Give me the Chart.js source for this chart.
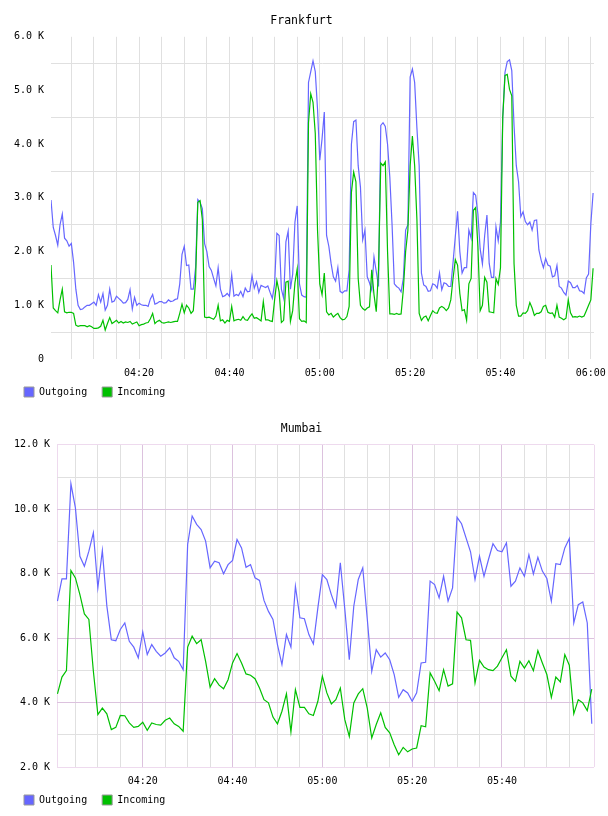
<!DOCTYPE html>
<html>
<head>
<meta charset="utf-8">
<title>Frankfurt / Mumbai traffic</title>
<script src="https://cdn.jsdelivr.net/npm/chart.js@4/dist/chart.umd.min.js"></script>
<style>
  html, body { margin: 0; padding: 0; background: #fff; }
  .box { position: relative; width: 608px; height: 408px; }
</style>
</head>
<body>
<div class="box"><canvas id="frankfurt"></canvas></div>
<div class="box"><canvas id="mumbai"></canvas></div>
<script>
// values are in K, times in minutes after midnight
const frankfurtStart = 240.5;   // 04:00:30, one sample every 30 s
const frankfurtStep = 0.5;
const frankfurtOut = [
  2.96, 2.45, 2.30, 2.12, 2.5, 2.7, 2.25, 2.2, 2.1, 2.15,
  1.8, 1.3, 1.0, 0.92, 0.93, 0.97, 1.0, 1.0, 1.03, 1.06,
  1.0, 1.2, 1.06, 1.22, 0.91, 1.0, 1.3, 1.06, 1.08, 1.17,
  1.13, 1.09, 1.04, 1.05, 1.11, 1.29, 0.93, 1.15, 1.0, 1.04,
  1.01, 1.0, 1.0, 0.98, 1.12, 1.2, 1.02, 1.04, 1.07, 1.07,
  1.04, 1.05, 1.10, 1.07, 1.08, 1.11, 1.12, 1.4, 1.95, 2.1,
  1.74, 1.75, 1.3, 1.3, 1.7, 2.97, 2.92, 2.8, 2.15, 2.0,
  1.72, 1.65, 1.5, 1.36, 1.7, 1.3, 1.16, 1.18, 1.22, 1.17,
  1.57, 1.17, 1.2, 1.18, 1.26, 1.16, 1.32, 1.25, 1.26, 1.55,
  1.32, 1.44, 1.24, 1.37, 1.35, 1.33, 1.36, 1.24, 1.13, 1.4,
  2.34, 2.3, 1.3, 1.13, 2.18, 2.38, 1.3, 1.58, 2.55, 2.85,
  1.4, 1.19, 1.16, 1.15, 5.15, 5.35, 5.55, 5.35, 4.65, 3.7,
  4.1, 4.6, 2.3, 2.1, 1.78, 1.53, 1.45, 1.7, 1.26, 1.23,
  1.27, 1.27, 1.66, 4.0, 4.42, 4.45, 3.6, 3.2, 2.22, 2.4,
  1.53, 1.42, 1.28, 1.9, 1.63, 1.35, 4.35, 4.4, 4.33, 4.0,
  3.39, 2.5, 1.4, 1.35, 1.32, 1.25, 1.5, 2.4, 2.5, 5.25,
  5.4, 5.15, 4.3, 3.6, 1.6, 1.38, 1.35, 1.26, 1.27, 1.4,
  1.38, 1.32, 1.6, 1.29, 1.42, 1.4, 1.35, 1.35, 1.8, 2.28,
  2.75, 2.0, 1.6, 1.7, 1.7, 2.4, 2.25, 3.1, 3.05, 2.7,
  2.05, 1.77, 2.3, 2.68, 1.78, 1.52, 1.52, 2.46, 2.2, 2.55,
  4.5, 5.34, 5.54, 5.57, 5.37, 4.35, 3.6, 3.3, 2.65, 2.74,
  2.56, 2.5, 2.55, 2.4, 2.58, 2.59, 2.03, 1.84, 1.7, 1.87,
  1.75, 1.73, 1.53, 1.55, 1.74, 1.35, 1.32, 1.24, 1.19, 1.45,
  1.42, 1.33, 1.33, 1.37, 1.27, 1.26, 1.22, 1.51, 1.58, 2.52,
  3.09
];
const frankfurtIn = [
  1.75, 0.95, 0.9, 0.86, 1.1, 1.3, 0.88, 0.86, 0.87, 0.87,
  0.85, 0.63, 0.61, 0.62, 0.62, 0.62, 0.60, 0.62, 0.6, 0.57,
  0.57, 0.58, 0.61, 0.72, 0.54, 0.66, 0.77, 0.66, 0.69, 0.72,
  0.67, 0.70, 0.67, 0.69, 0.68, 0.70, 0.65, 0.67, 0.69, 0.62,
  0.64, 0.65, 0.67, 0.68, 0.75, 0.85, 0.66, 0.70, 0.72, 0.68,
  0.67, 0.68, 0.69, 0.68, 0.69, 0.70, 0.70, 0.85, 1.02, 0.86,
  1.0, 0.95, 0.85, 0.9, 1.45, 2.92, 2.95, 2.6, 0.78, 0.77,
  0.78, 0.76, 0.74, 0.8, 1.0, 0.71, 0.73, 0.67, 0.72, 0.7,
  0.98, 0.71, 0.73, 0.74, 0.72, 0.79, 0.73, 0.72, 0.79, 0.84,
  0.76, 0.77, 0.74, 0.71, 1.07, 0.73, 0.73, 0.71, 0.70, 1.1,
  1.46, 1.25, 0.68, 0.72, 1.43, 1.45, 0.7, 0.9, 1.42, 1.68,
  0.75, 0.7, 0.71, 0.68, 4.4, 4.94, 4.78, 4.2, 2.4, 1.4,
  1.2, 1.6, 0.88, 0.82, 0.85, 0.78, 0.82, 0.85, 0.77, 0.73,
  0.74, 0.79, 0.98, 3.1, 3.48, 3.3, 1.5, 1.0, 0.94, 0.91,
  0.95, 0.97, 1.66, 1.2, 0.88, 1.66, 3.65, 3.6, 3.67, 2.0,
  0.84, 0.84, 0.83, 0.85, 0.83, 0.84, 1.3, 2.0, 2.4, 3.6,
  4.15, 3.6, 2.6, 0.85, 0.72, 0.78, 0.8, 0.71, 0.81, 0.9,
  0.86, 0.85, 0.95, 0.98, 0.95, 0.9, 0.95, 1.1, 1.5, 1.85,
  1.75, 1.22, 0.9, 0.92, 0.72, 1.4, 1.5, 2.77, 2.82, 2.1,
  0.9, 1.0, 1.52, 1.43, 0.88, 0.87, 0.86, 1.5, 1.39, 1.7,
  4.5, 5.28, 5.3, 5.02, 4.9, 1.78, 1.0, 0.8, 0.8, 0.86,
  0.85, 0.9, 1.05, 0.95, 0.81, 0.85, 0.85, 0.88, 0.98, 1.0,
  0.87, 0.85, 0.86, 0.78, 1.0, 0.78, 0.76, 0.73, 0.76, 1.1,
  0.86, 0.78, 0.79, 0.78, 0.8, 0.78, 0.8, 0.9, 1.0, 1.1,
  1.69
];

const mumbaiStart = 241;   // 04:01, one sample a minute
const mumbaiStep = 1;
const mumbaiOut = [
  7.15, 7.84, 7.84, 10.79, 10.04, 8.54, 8.23, 8.70, 9.27, 7.56,
  8.72, 7.0, 5.95, 5.92, 6.27, 6.47, 5.90, 5.72, 5.39, 6.19,
  5.49, 5.80, 5.59, 5.44, 5.54, 5.70, 5.39, 5.28, 5.02, 8.91,
  9.79, 9.53, 9.37, 9.01, 8.18, 8.39, 8.34, 8.00, 8.28, 8.41,
  9.06, 8.80, 8.20, 8.28, 7.87, 7.79, 7.17, 6.83, 6.58, 5.80,
  5.18, 6.11, 5.72, 7.61, 6.63, 6.6, 6.11, 5.82, 6.94, 7.97,
  7.82, 7.35, 6.96, 8.34, 6.9, 5.33, 6.99, 7.82, 8.18, 6.6,
  4.97, 5.64, 5.41, 5.54, 5.33, 4.87, 4.16, 4.40, 4.30, 4.04,
  4.30, 5.23, 5.25, 7.77, 7.66, 7.25, 7.92, 7.15, 7.56, 9.75,
  9.55, 9.11, 8.68, 7.82, 8.54, 7.92, 8.44, 8.93, 8.72, 8.68,
  8.96, 7.61, 7.77, 8.18, 7.92, 8.59, 7.99, 8.51, 8.08, 7.85,
  7.15, 8.31, 8.28, 8.80, 9.09, 6.47, 7.04, 7.12, 6.47, 3.34
];
const mumbaiIn = [
  4.27, 4.79, 4.99, 8.10, 7.87, 7.35, 6.75, 6.58, 4.97, 3.63,
  3.83, 3.65, 3.16, 3.23, 3.60, 3.59, 3.37, 3.23, 3.26, 3.39,
  3.14, 3.37, 3.32, 3.30, 3.45, 3.52, 3.34, 3.26, 3.11, 5.72,
  6.06, 5.83, 5.95, 5.28, 4.48, 4.74, 4.54, 4.43, 4.71, 5.23,
  5.52, 5.23, 4.89, 4.85, 4.74, 4.45, 4.09, 3.99, 3.55, 3.34,
  3.73, 4.27, 3.09, 4.40, 3.85, 3.85, 3.65, 3.60, 4.04, 4.82,
  4.30, 3.96, 4.09, 4.45, 3.47, 2.95, 3.99, 4.27, 4.43, 3.83,
  2.90, 3.32, 3.68, 3.23, 3.06, 2.69, 2.38, 2.61, 2.47, 2.56,
  2.59, 3.28, 3.25, 4.92, 4.66, 4.37, 5.02, 4.51, 4.58, 6.81,
  6.63, 5.95, 5.93, 4.61, 5.31, 5.10, 5.02, 4.99, 5.13, 5.39,
  5.64, 4.82, 4.66, 5.28, 5.07, 5.30, 4.99, 5.61, 5.23, 4.87,
  4.16, 4.79, 4.64, 5.49, 5.16, 3.65, 4.09, 3.99, 3.75, 4.42
];

// tick positions (minutes / K)
const fraTimeTicks = [245, 250, 255, 260, 265, 270, 275, 280, 285, 290, 295, 300, 305, 310, 315, 320, 325, 330, 335, 340, 345, 350, 355, 360];
const fraTimeLabels = [260, 280, 300, 320, 340, 360];
const fraValueTicks = [0, 0.5, 1, 1.5, 2, 2.5, 3, 3.5, 4, 4.5, 5, 5.5, 6];
const mumTimeTicks = [240.9, 245, 250, 255, 260, 265, 270, 275, 280, 285, 290, 295, 300, 305, 310, 315, 320, 325, 330, 335, 340, 345, 350, 355, 360.5];
const mumTimeLabels = [260, 280, 300, 320, 340];
const mumValueTicks = [2, 3, 4, 5, 6, 7, 8, 9, 10, 11, 12];

const BLUE = '#6666ff';
const GREEN = '#00c000';
const MONO = "'DejaVu Sans Mono', monospace";
const GRID = 'rgb(224,224,224)';
const MAJOR = 'rgb(220,194,222)';
const EDGE = 'rgb(238,218,238)';

function hhmm(v) {
  const h = Math.floor(v / 60), m = Math.round(v % 60);
  return String(h).padStart(2, '0') + ':' + String(m).padStart(2, '0');
}

function makeTimes(start, step, n) {
  const t = [];
  for (let i = 0; i < n; i++) t.push(start + i * step);
  return t;
}

function drawChart(id, title, times, outVals, inVals, cfg) {
  const pts = vals => vals.map((v, i) => ({ x: times[i], y: v }));
  return new Chart(document.getElementById(id), {
    type: 'line',
    data: {
      datasets: [
        { label: 'Outgoing', data: pts(outVals), borderColor: BLUE, backgroundColor: BLUE,
          borderWidth: 1.2, pointRadius: 0, tension: 0, order: 1 },
        { label: 'Incoming', data: pts(inVals), borderColor: GREEN, backgroundColor: GREEN,
          borderWidth: 1.2, pointRadius: 0, tension: 0, order: 0 }
      ]
    },
    options: {
      responsive: true,
      maintainAspectRatio: false,
      animation: false,
      layout: { padding: { left: 9, right: 14, top: 0, bottom: 1 } },
      plugins: {
        title: {
          display: true, text: title, color: '#000',
          font: { family: MONO, size: 11.5, weight: 'normal' },
          padding: { top: 14.5, bottom: 8.5 }
        },
        legend: {
          position: 'bottom', align: 'start',
          labels: {
            boxWidth: 10, boxHeight: 10, padding: 15, color: '#000',
            font: { family: MONO, size: 10 },
            generateLabels: chart => chart.data.datasets.map((ds, i) => ({
              text: ds.label, fillStyle: ds.borderColor, strokeStyle: '#999',
              lineWidth: 1, datasetIndex: i, hidden: false
            }))
          }
        },
        tooltip: { enabled: false }
      },
      scales: {
        x: {
          type: 'linear', min: cfg.xMin, max: cfg.xMax,
          afterBuildTicks: s => { s.ticks = cfg.xTicks.map(v => ({ value: v })); },
          afterFit: s => {
            // thin axis box so the legend sits close; labels may overhang it
            s.height = 13; s.paddingLeft = 0; s.paddingRight = 0;
            s._computeLabelArea = () => undefined;
          },
          ticks: {
            padding: 8, autoSkip: false, maxRotation: 0, color: '#000',
            font: { family: MONO, size: 10 },
            callback: v => cfg.xLabels.includes(v) ? hhmm(v) : ''
          },
          grid: { drawTicks: false, color: c => cfg.xGrid(c.tick.value) },
          border: { display: false }
        },
        y: {
          min: cfg.yMin, max: cfg.yMax,
          afterBuildTicks: s => { s.ticks = cfg.yTicks.map(v => ({ value: v })); },
          afterFit: s => { s.width = cfg.yWidth; },
          ticks: {
            padding: 7, color: '#000',
            font: { family: MONO, size: 10 },
            callback: cfg.yLabel
          },
          grid: { drawTicks: false, color: c => cfg.yGrid(c.tick.value) },
          border: { display: false }
        }
      }
    }
  });
}

drawChart('frankfurt', 'Frankfurt',
  makeTimes(frankfurtStart, frankfurtStep, frankfurtOut.length), frankfurtOut, frankfurtIn, {
    xMin: 240.5, xMax: 360.7, xTicks: fraTimeTicks, xLabels: fraTimeLabels,
    xGrid: () => GRID,
    yMin: 0, yMax: 6, yTicks: fraValueTicks, yWidth: 42,
    yLabel: v => Number.isInteger(v) ? (v === 0 ? '0' : v.toFixed(1) + ' K') : '',
    yGrid: v => Number.isInteger(v) ? 'rgba(0,0,0,0)' : GRID
  });

drawChart('mumbai', 'Mumbai',
  makeTimes(mumbaiStart, mumbaiStep, mumbaiOut.length), mumbaiOut, mumbaiIn, {
    xMin: 240.9, xMax: 360.5, xTicks: mumTimeTicks, xLabels: mumTimeLabels,
    xGrid: v => (v === 240.9 || v === 360.5) ? EDGE : (v % 20 === 0 ? MAJOR : GRID),
    yMin: 2, yMax: 12, yTicks: mumValueTicks, yWidth: 48,
    yLabel: v => v % 2 === 0 ? v.toFixed(1) + ' K' : '',
    yGrid: v => (v === 2 || v === 12) ? EDGE : (v % 2 === 0 ? MAJOR : GRID)
  });
</script>
</body>
</html>
